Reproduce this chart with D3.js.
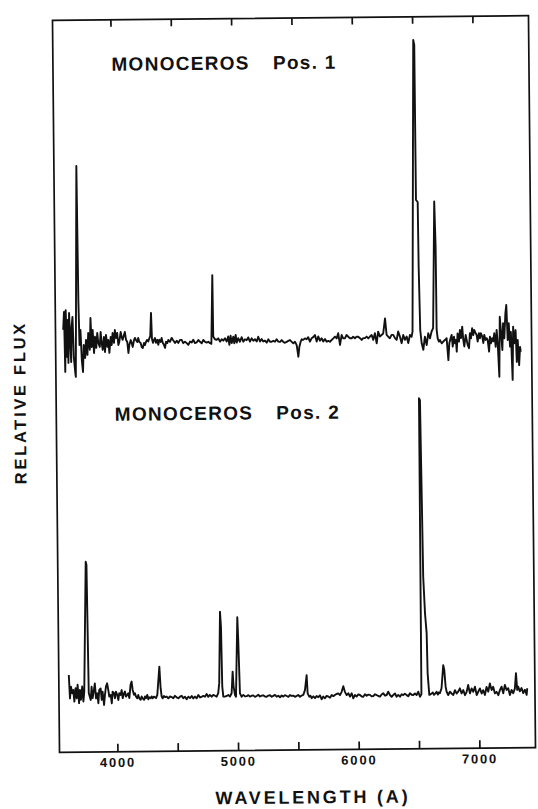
<!DOCTYPE html>
<html>
<head>
<meta charset="utf-8">
<script src="https://cdn.jsdelivr.net/npm/d3@7"></script>
<style>
  html, body { margin: 0; padding: 0; background: #fff; }
  svg { display: block; }
  text { font-family: "Liberation Sans", Arial, Helvetica, sans-serif; font-weight: bold; fill: #111; }
</style>
</head>
<body>
<svg id="chart" width="538" height="809"></svg>
<script>
// ---- Spectrum, position 1 (wavelength in Angstrom, continuum-relative flux) ----
const pos1Wave = [3584,3592,3598,3606,3615,3620,3625,3634,3642,3648,3654,3662,3670,3681,3685,3706,3712,3718,3727,3736,
  3745,3753,3764,3772,3783,3791,3803,3811,3819,3828,3838,3847,3857,3866,3874,3886,3894,3902,3910,3921,
  3929,3938,3949,3957,3965,3977,3985,3993,4004,4012,4021,4031,4040,4048,4060,4068,4076,4087,4095,4104,
  4114,4123,4131,4143,4151,4159,4170,4178,4186,4197,4205,4214,4225,4234,4242,4253,4261,4269,4278,4288,
  4297,4305,4313,4319,4327,4336,4344,4352,4363,4371,4380,4391,4399,4408,4418,4427,4435,4446,4454,4468,
  4482,4493,4510,4524,4537,4551,4565,4578,4592,4607,4620,4634,4648,4661,4675,4689,4703,4717,4731,4744,
  4758,4772,4786,4800,4811,4824,4827,4841,4855,4868,4883,4897,4910,4924,4938,4951,4960,4971,4980,4993,
  5001,5013,5021,5034,5048,5062,5076,5090,5104,5117,5131,5145,5159,5173,5187,5200,5214,5228,5241,5255,
  5270,5283,5297,5311,5324,5338,5352,5366,5380,5394,5407,5421,5435,5449,5463,5477,5490,5504,5518,5531,
  5540,5551,5560,5573,5587,5601,5614,5628,5642,5656,5670,5684,5697,5711,5725,5739,5753,5767,5780,5794,
  5808,5822,5836,5850,5863,5877,5891,5904,5918,5932,5946,5960,5974,5987,6001,6015,6029,6043,6057,6070,
  6084,6098,6112,6126,6140,6153,6167,6181,6194,6208,6222,6236,6252,6264,6277,6291,6305,6319,6333,6347,
  6360,6374,6388,6402,6416,6430,6443,6457,6471,6479,6508,6516,6518,6532,6535,6543,6554,6567,6581,6595,
  6609,6623,6637,6650,6669,6677,6679,6687,6697,6706,6720,6733,6747,6761,6774,6783,6794,6803,6811,6822,
  6830,6838,6844,6852,6863,6872,6880,6891,6899,6907,6919,6927,6935,6946,6954,6963,6973,6982,6990,7002,
  7010,7018,7029,7037,7045,7056,7065,7073,7084,7093,7101,7112,7120,7128,7139,7147,7156,7167,7176,7184,
  7195,7203,7211,7222,7230,7239,7250,7258,7267,7277,7286,7294,7305,7313,7321,7333,7341,7350,7360,7369,7374];
const pos1Flux = [1.41,2.01,0.01,2.07,0.51,1.74,0.31,1.97,0.97,0.34,1.51,1.84,0.51,-0.03,-0.16,6.87,2.40,0.90,1.40,0.40,
  0.00,0.90,0.47,1.07,0.57,1.30,0.74,1.80,0.83,1.40,0.63,1.17,0.80,1.30,0.97,0.83,1.33,0.96,0.73,1.16,
  0.66,1.23,0.83,1.06,0.63,1.16,0.89,1.29,0.96,1.39,1.12,1.29,0.89,0.99,1.32,1.16,1.06,1.22,1.32,1.06,
  0.99,0.62,0.89,1.05,0.95,0.82,1.05,1.12,1.05,0.98,1.12,0.98,0.95,0.81,0.78,0.95,0.88,0.98,1.05,1.00,
  1.10,1.18,1.95,1.08,0.95,1.05,1.11,0.95,1.05,0.88,1.05,0.98,1.11,0.95,0.88,0.78,0.98,0.94,1.04,0.98,
  1.11,1.04,0.94,1.01,0.94,1.04,1.04,0.93,0.98,0.93,0.87,0.98,0.95,1.04,0.93,0.95,1.03,0.97,0.92,1.03,
  0.97,0.94,0.97,0.92,0.90,3.19,1.14,1.05,1.03,1.08,0.97,1.05,1.00,1.08,0.97,1.14,0.86,1.16,0.92,1.13,
  0.91,1.19,0.93,1.08,0.96,1.11,0.96,1.04,1.01,1.10,0.96,1.07,0.99,1.04,0.96,1.12,0.96,1.04,0.96,0.99,
  0.92,1.03,0.95,0.95,0.98,0.95,1.03,0.95,0.94,1.00,0.94,0.91,0.94,0.97,1.00,0.94,0.89,0.94,0.83,0.44,
  0.77,0.94,1.02,1.00,1.05,1.02,1.09,0.94,1.05,1.09,1.16,0.94,1.11,0.97,1.05,0.94,1.02,0.93,0.96,0.93,
  0.99,1.04,1.10,1.04,1.21,0.82,1.15,1.04,1.04,1.15,1.09,1.04,1.04,1.09,1.04,1.09,1.09,1.04,0.98,1.04,
  1.04,1.09,1.03,1.09,1.14,0.98,1.20,0.86,1.25,1.09,1.14,1.19,1.69,1.14,1.08,1.03,1.14,1.14,1.03,0.97,
  1.25,1.08,0.86,1.13,0.97,1.08,0.86,1.13,1.07,1.24,10.96,10.80,5.63,5.56,3.39,1.29,0.85,0.63,1.07,0.79,
  1.18,1.01,1.24,1.35,5.57,4.07,1.29,1.01,0.90,0.95,0.84,0.90,0.95,1.01,0.28,0.84,1.01,1.12,0.73,1.06,
  0.84,0.95,0.56,1.17,0.89,1.28,1.01,1.39,0.95,0.73,1.11,0.95,0.78,0.67,1.17,1.00,1.34,1.11,1.28,1.17,
  1.11,0.89,1.17,1.00,1.17,1.06,0.84,1.11,0.94,1.00,0.94,0.55,1.05,0.83,1.00,0.89,1.16,0.71,1.27,0.83,
  -0.29,1.71,1.27,0.60,1.49,0.99,1.82,2.10,0.93,1.49,0.71,1.20,-0.40,1.37,0.82,1.26,0.20,0.93,0.09,0.70,0.53];

// ---- Spectrum, position 2 ----
const pos2Wave = [3603,3611,3620,3630,3639,3647,3658,3667,3675,3686,3694,3702,3713,3722,3730,3752,3758,3767,3783,3791,
  3799,3810,3818,3827,3838,3846,3854,3866,3874,3882,3893,3901,3910,3920,3929,3937,3949,3957,3965,3976,
  3984,3992,4003,4012,4020,4031,4040,4048,4059,4067,4075,4086,4094,4103,4114,4123,4131,4142,4150,4158,
  4169,4177,4186,4197,4205,4214,4225,4233,4241,4252,4260,4268,4280,4288,4297,4307,4316,4324,4335,4343,
  4354,4363,4371,4379,4390,4399,4413,4426,4440,4454,4467,4481,4495,4509,4523,4537,4550,4564,4578,4592,
  4606,4620,4633,4647,4661,4675,4689,4703,4716,4730,4744,4757,4771,4785,4799,4813,4827,4840,4849,4861,
  4868,4874,4882,4896,4910,4923,4937,4951,4961,4968,4979,4987,5004,5010,5020,5034,5048,5062,5076,5090,
  5103,5117,5130,5144,5158,5172,5186,5200,5213,5227,5241,5255,5269,5283,5296,5310,5324,5338,5352,5366,
  5379,5393,5407,5421,5434,5448,5462,5476,5490,5503,5517,5531,5545,5559,5574,5581,5594,5604,5614,5628,
  5642,5655,5669,5683,5697,5710,5724,5738,5752,5766,5780,5794,5807,5821,5835,5849,5863,5877,5890,5904,
  5918,5932,5946,5959,5973,5987,6001,6015,6029,6042,6056,6070,6084,6097,6111,6125,6139,6153,6167,6180,
  6194,6208,6222,6236,6249,6263,6277,6291,6305,6318,6332,6346,6360,6373,6387,6401,6415,6429,6443,6456,
  6470,6484,6498,6512,6524,6527,6535,6548,6560,6572,6577,6589,6599,6609,6618,6628,6638,6650,6660,6667,
  6677,6691,6707,6715,6725,6733,6746,6760,6774,6788,6802,6816,6829,6843,6857,6871,6885,6899,6912,6926,
  6940,6954,6968,6982,6995,7009,7023,7036,7050,7064,7078,7092,7106,7119,7133,7147,7161,7175,7189,7202,
  7216,7230,7244,7257,7271,7285,7299,7309,7318,7326,7340,7354,7368,7382,7396,7401];
const pos2Flux = [1.74,0.96,1.35,1.13,1.24,0.85,1.30,0.96,1.41,0.80,1.24,0.91,1.35,0.85,1.18,5.51,5.41,1.13,0.90,1.34,
  0.96,1.23,1.45,0.95,1.12,0.79,1.23,1.28,0.90,1.17,0.73,1.06,1.34,1.45,1.23,1.01,1.06,0.78,1.17,1.12,
  0.95,1.17,1.06,0.89,1.12,1.06,1.22,0.95,1.11,1.17,1.00,1.06,1.11,0.95,1.39,1.50,1.22,1.06,1.11,1.00,
  0.94,1.05,0.94,0.89,1.00,0.94,0.89,1.00,0.94,1.05,0.90,0.97,0.94,1.00,0.94,0.99,0.97,0.94,1.05,1.44,
  1.99,1.27,0.99,0.93,1.01,0.97,0.99,0.93,0.99,0.97,0.93,1.01,0.96,0.93,0.98,1.01,0.93,0.98,0.89,0.98,
  0.93,1.00,0.92,0.98,0.92,1.03,0.95,0.97,1.00,0.97,1.06,0.97,1.03,0.97,1.03,1.00,0.97,1.09,1.42,3.80,
  3.30,1.30,0.97,0.97,0.99,1.02,0.97,1.08,1.80,1.30,1.02,0.96,3.61,2.85,1.07,0.96,1.02,0.97,0.98,1.01,
  0.96,0.99,1.00,0.95,0.98,1.02,0.96,0.99,1.00,0.96,0.95,0.99,1.00,0.95,0.98,1.01,0.95,0.98,0.93,0.99,
  0.95,1.00,0.97,0.94,1.00,0.97,0.98,0.94,0.97,1.00,0.94,0.98,1.00,1.16,1.66,1.05,0.94,0.97,0.89,0.95,
  0.89,0.96,0.92,0.98,0.85,0.94,0.88,0.96,0.94,0.90,0.99,0.95,0.99,1.02,1.04,0.98,1.09,1.28,1.09,0.98,
  1.04,0.93,1.04,0.87,0.98,0.93,1.00,0.98,0.93,0.92,1.00,0.95,0.99,0.98,0.93,0.94,1.00,0.97,0.94,0.92,
  0.99,1.03,0.95,0.97,1.08,0.97,0.91,0.97,1.02,0.91,0.97,0.91,0.99,0.96,1.01,0.96,0.92,1.02,0.97,0.96,
  1.01,0.96,1.07,0.90,0.99,10.85,10.79,4.90,3.68,3.02,1.68,0.96,0.98,1.01,1.04,0.96,1.00,1.06,0.97,1.04,
  1.01,1.18,1.95,1.79,1.23,1.06,0.95,1.06,1.00,0.95,1.11,1.00,1.06,1.17,1.00,1.11,0.94,1.05,1.28,1.00,
  1.16,1.05,1.22,0.94,1.05,1.16,0.99,1.10,0.94,1.21,1.05,1.32,1.10,1.21,0.99,1.04,0.93,1.10,1.21,0.99,
  1.27,1.10,1.16,0.93,1.10,0.99,1.15,1.66,1.10,1.21,1.05,1.16,0.99,1.10,0.93,1.15];

// ---- Axis ticks and labels ----
const tickWaves = [4000, 4500, 5000, 5500, 6000, 6500, 7000];
const tickLabels = ["4000", "", "5000", "", "6000", "", "7000"];
const panelNames = ["MONOCEROS", "MONOCEROS"];
const panelPositions = ["Pos. 1", "Pos. 2"];
const xTitle = "WAVELENGTH (A)";
const yTitle = "RELATIVE FLUX";

// ---- Layout ----
const frame = { left: 56, right: 532, top: 18, bottom: 750 };
const svg = d3.select("#chart");
// the whole plate sits a little askew
const plate = svg.append("g").attr("transform", "rotate(-0.55 294 384.5)");

const x = d3.scaleLinear().domain([3520, 7465]).range([frame.left, frame.right]);
const yTop = d3.scaleLinear().domain([0, 12]).range([370, 10]);
const yBottom = d3.scaleLinear().domain([0, 12]).range([725, 365]);

// frame
plate.append("rect")
  .attr("x", frame.left).attr("y", frame.top)
  .attr("width", frame.right - frame.left).attr("height", frame.bottom - frame.top)
  .attr("fill", "none").attr("stroke", "#111").attr("stroke-width", 1.7);

// bottom axis: inward ticks, labels every 1000 A
const labelOf = d3.scaleOrdinal().domain(tickWaves).range(tickLabels);
const bottomAxis = d3.axisBottom(x).tickValues(tickWaves).tickSize(-8).tickPadding(6)
  .tickFormat(d => labelOf(d));
const gb = plate.append("g").attr("transform", `translate(0,${frame.bottom})`).call(bottomAxis);
gb.select(".domain").remove();
gb.selectAll(".tick line").attr("stroke", "#111").attr("stroke-width", 1.7);
gb.selectAll(".tick text")
  .attr("font-size", 13).attr("letter-spacing", "1.8px")
  .attr("font-family", "Liberation Sans, Arial, sans-serif").attr("font-weight", "bold")
  .attr("fill", "#111");

// top axis: inward ticks only
const topAxis = d3.axisTop(x).tickValues(tickWaves).tickSize(-7).tickFormat("");
const gt = plate.append("g").attr("transform", `translate(0,${frame.top})`).call(topAxis);
gt.select(".domain").remove();
gt.selectAll(".tick line").attr("stroke", "#111").attr("stroke-width", 1.7);

// spectra
const spectra = [
  { data: d3.zip(pos1Wave, pos1Flux), y: yTop },
  { data: d3.zip(pos2Wave, pos2Flux), y: yBottom }
];
spectra.forEach(s => {
  const line = d3.line().x(d => x(d[0])).y(d => s.y(d[1]));
  plate.append("path")
    .datum(s.data)
    .attr("d", line)
    .attr("fill", "none")
    .attr("stroke", "#111")
    .attr("stroke-width", 1.9)
    .attr("stroke-linejoin", "round");
});

// panel titles
const titleBaselines = [69, 419];
titleBaselines.forEach((yb, i) => {
  const t = plate.append("text").attr("y", yb).attr("font-size", 19).attr("letter-spacing", "1.3px");
  t.append("tspan").attr("x", 114.5).text(panelNames[i]);
  t.append("tspan").attr("x", 276).text(panelPositions[i]);
});

// axis titles
plate.append("text")
  .attr("x", 309).attr("y", 803.5)
  .attr("text-anchor", "middle")
  .attr("font-size", 18).attr("letter-spacing", "2.8px")
  .text(xTitle);

plate.append("text")
  .attr("transform", "translate(25.5,400) rotate(-90)")
  .attr("text-anchor", "middle")
  .attr("font-size", 16.5).attr("letter-spacing", "2.7px")
  .text(yTitle);
</script>
</body>
</html>
